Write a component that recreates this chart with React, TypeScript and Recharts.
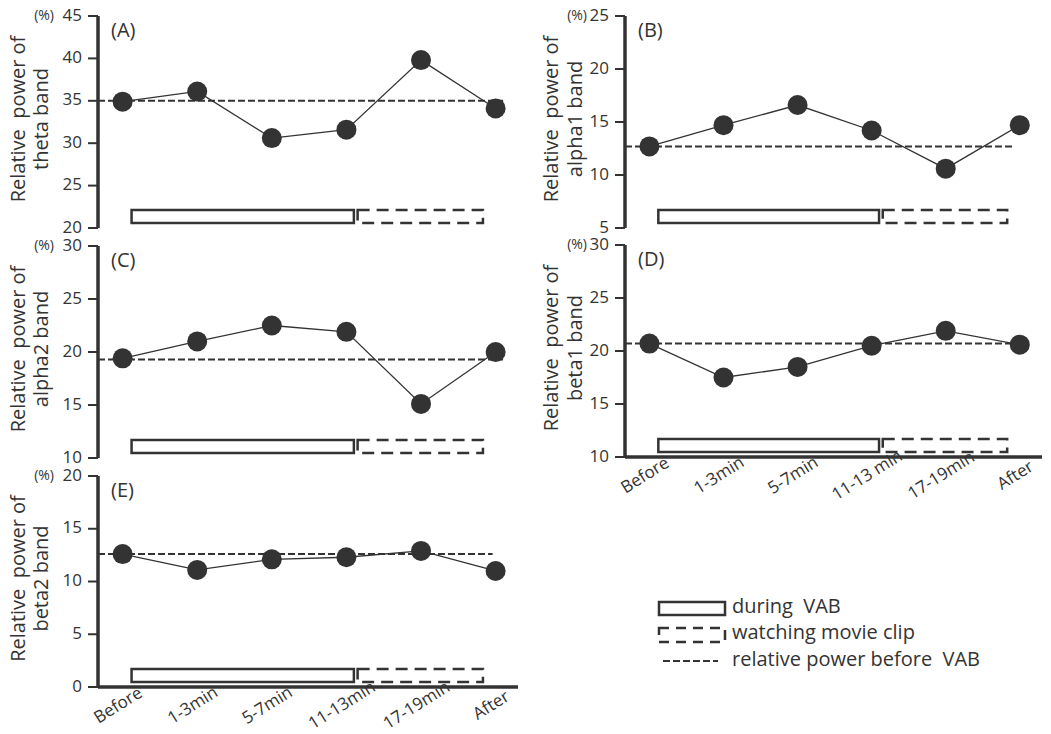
import React from "react";
import { LineChart, Line, XAxis, YAxis, ReferenceLine, ReferenceArea } from "recharts";

const labelsD = ["Before", "1-3min", "5-7min", "11-13 min", "17-19min", "After"];
const labelsE = ["Before", "1-3min", "5-7min", "11-13min", "17-19min", "After"];

const theta = [34.9, 36.1, 30.6, 31.6, 39.8, 34.1];
const alpha1 = [12.7, 14.7, 16.6, 14.2, 10.6, 14.7];
const alpha2 = [19.4, 21.0, 22.5, 21.9, 15.1, 20.0];
const beta1 = [20.7, 17.5, 18.5, 20.5, 21.9, 20.6];
const beta2 = [12.6, 11.1, 12.1, 12.3, 12.9, 11.0];

const baselines = [35.0, 12.7, 19.3, 20.7, 12.6];

const ticksA = [20, 25, 30, 35, 40, 45];
const ticksB = [5, 10, 15, 20, 25];
const ticksC = [10, 15, 20, 25, 30];
const ticksD = [10, 15, 20, 25, 30];
const ticksE = [0, 5, 10, 15, 20];

// period boxes, in category index units
const vabBox = [0.12, 3.1];
const movieBox = [3.15, 4.83];
const refEnds = [5.1, 4.92, 5.1, 5.05, 4.96];

const X_MIN = -0.33;
const X_MAX = 5.3;
const INK = "#333";
const FONT = "'Open Sans', sans-serif";
const SP = "\u00a0";

function Panel({ letter, values, base, ticks, band, labels, left, top, width, height, margin, xH, labOff, refEnd, pctGap }: any) {
  const data = values.map((v: number, i: number) => ({ idx: i, value: v }));
  const yMin = ticks[0];
  const yMax = ticks[ticks.length - 1];
  const span = yMax - yMin;
  const axisX = margin.left + 40;
  const plotTop = margin.top;
  const plotBottom = height - margin.bottom - xH;
  const cy = (plotTop + plotBottom) / 2 - 3;

  const yTick = ({ x, y, payload }: any) => (
    <g>
      <text x={x} y={y} textAnchor="end" dominantBaseline="middle" fill={INK} fontSize={17} fontFamily={FONT}>
        {payload.value}
      </text>
      {payload.value === yMax && (
        <text x={x - pctGap} y={y} textAnchor="end" dominantBaseline="middle" fill={INK} fontSize={14} fontFamily={FONT}>
          (%)
        </text>
      )}
    </g>
  );

  const xTick = ({ x, y, payload }: any) => (
    <text
      x={x - 4}
      y={y + 19}
      textAnchor="middle"
      dominantBaseline="middle"
      fill={INK}
      fontSize={17}
      fontFamily={FONT}
      transform={`rotate(-32, ${x - 4}, ${y + 19})`}
    >
      {labels[payload.value]}
    </text>
  );

  return (
    <div style={{ position: "absolute", left, top, width, height }}>
      <LineChart width={width} height={height} data={data} margin={margin}>
        <XAxis
          dataKey="idx"
          type="number"
          domain={[X_MIN, X_MAX]}
          ticks={[0, 1, 2, 3, 4, 5]}
          allowDataOverflow
          height={xH}
          tick={labels ? xTick : false}
          tickLine={false}
          tickSize={0}
          tickMargin={0}
          axisLine={{ stroke: INK, strokeWidth: 3.5 }}
        />
        <YAxis
          type="number"
          domain={[yMin, yMax]}
          ticks={ticks}
          width={40}
          tickSize={10}
          tickMargin={6}
          tick={yTick}
          tickLine={{ stroke: INK, strokeWidth: 2 }}
          axisLine={{ stroke: INK, strokeWidth: 3.5 }}
        />
        <ReferenceArea
          x1={vabBox[0]}
          x2={vabBox[1]}
          y1={yMin + 0.024 * span}
          y2={yMin + 0.085 * span}
          fill="#fff"
          fillOpacity={1}
          stroke={INK}
          strokeWidth={2.5}
        />
        <ReferenceArea
          x1={movieBox[0]}
          x2={movieBox[1]}
          y1={yMin + 0.024 * span}
          y2={yMin + 0.085 * span}
          fill="none"
          fillOpacity={0}
          stroke={INK}
          strokeWidth={2.5}
          strokeDasharray="12 7"
        />
        <ReferenceLine
          segment={[
            { x: X_MIN, y: base },
            { x: refEnd, y: base },
          ]}
          stroke={INK}
          strokeWidth={2}
          strokeDasharray="7 3"
        />
        <Line
          type="linear"
          dataKey="value"
          stroke={INK}
          strokeWidth={1.3}
          dot={{ r: 10, fill: INK, stroke: "none" }}
          activeDot={false}
          isAnimationActive={false}
        />
      </LineChart>
      <svg width={width} height={height} style={{ position: "absolute", left: 0, top: 0, pointerEvents: "none" }}>
        <text
          x={axisX - labOff[0]}
          y={cy}
          textAnchor="middle"
          dominantBaseline="middle"
          fill={INK}
          fontSize={20}
          fontFamily={FONT}
          transform={`rotate(-90, ${axisX - labOff[0]}, ${cy})`}
        >
          {`Relative${SP}${SP}power of`}
        </text>
        <text
          x={axisX - labOff[1]}
          y={cy}
          textAnchor="middle"
          dominantBaseline="middle"
          fill={INK}
          fontSize={20}
          fontFamily={FONT}
          transform={`rotate(-90, ${axisX - labOff[1]}, ${cy})`}
        >
          {band}
        </text>
        <text x={axisX + 13} y={plotTop + 16} dominantBaseline="middle" fill={INK} fontSize={20} fontFamily={FONT}>
          {letter}
        </text>
      </svg>
    </div>
  );
}

export default function App() {
  const mL = { top: 16, right: 7, bottom: 12, left: 58 };
  const mR = { top: 16, right: 9, bottom: 12, left: 60 };
  return (
    <div style={{ position: "absolute", left: 0, top: 0, width: 1051, height: 734, background: "#fff", overflow: "hidden" }}>
      <Panel letter="(A)" values={theta} base={baselines[0]} ticks={ticksA} band="theta band" left={0} top={0} width={525} height={240} margin={mL} xH={0} labOff={[78, 55]} refEnd={refEnds[0]} pctGap={28} />
      <Panel letter="(B)" values={alpha1} base={baselines[1]} ticks={ticksB} band="alpha1 band" left={525} top={0} width={526} height={240} margin={mR} xH={0} labOff={[72, 48]} refEnd={refEnds[1]} pctGap={22} />
      <Panel letter="(C)" values={alpha2} base={baselines[2]} ticks={ticksC} band="alpha2 band" left={0} top={230} width={525} height={240} margin={mL} xH={0} labOff={[78, 55]} refEnd={refEnds[2]} pctGap={28} />
      <Panel letter="(D)" values={beta1} base={baselines[3]} ticks={ticksD} band="beta1 band" labels={labelsD} left={525} top={229} width={526} height={290} margin={mR} xH={50} labOff={[72, 48]} refEnd={refEnds[3]} pctGap={22} />
      <Panel letter="(E)" values={beta2} base={baselines[4]} ticks={ticksE} band="beta2 band" labels={labelsE} left={0} top={460} width={525} height={274} margin={{ ...mL, bottom: 2 }} xH={45} labOff={[78, 55]} refEnd={refEnds[4]} pctGap={28} />

      {/* legend */}
      <svg width={400} height={90} style={{ position: "absolute", left: 650, top: 585 }}>
        <rect x={9} y={17} width={66} height={13} fill="#fff" stroke={INK} strokeWidth={2.5} />
        <text x={82} y={23} dominantBaseline="middle" fill={INK} fontSize={20} fontFamily={FONT}>
          {`during${SP}${SP}VAB`}
        </text>
        <rect x={9} y={43} width={66} height={14} fill="none" stroke={INK} strokeWidth={2.5} strokeDasharray="10 7" />
        <text x={82} y={49} dominantBaseline="middle" fill={INK} fontSize={20} fontFamily={FONT}>
          watching movie clip
        </text>
        <line x1={13} y1={76} x2={68} y2={76} stroke={INK} strokeWidth={2} strokeDasharray="7 3" />
        <text x={82} y={76} dominantBaseline="middle" fill={INK} fontSize={20} fontFamily={FONT}>
          {`relative power before${SP}${SP}VAB`}
        </text>
      </svg>
    </div>
  );
}
